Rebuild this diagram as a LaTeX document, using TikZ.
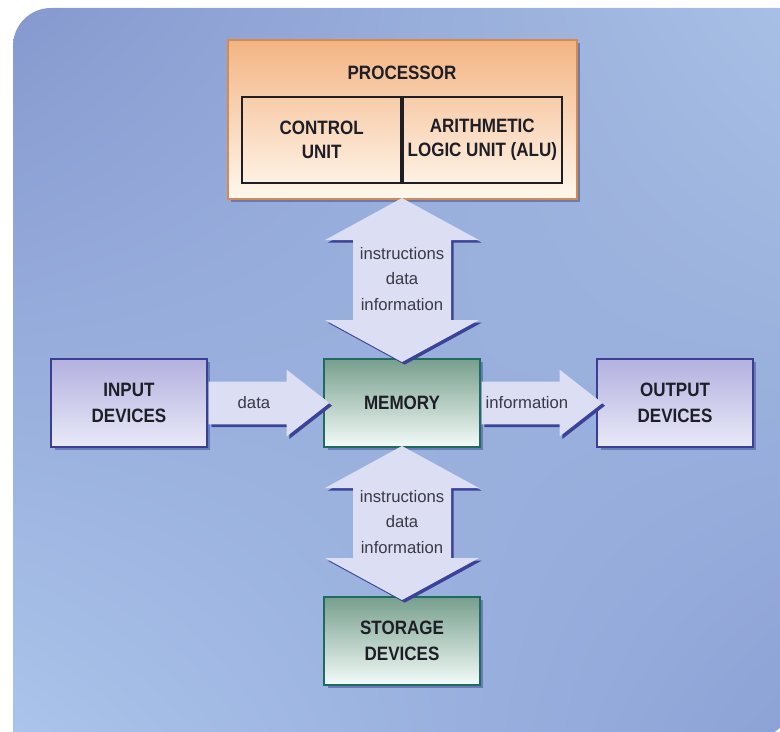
\documentclass[tikz,border=0pt]{standalone}
\usepackage{fontspec}
\setmainfont{Liberation Sans}
\newfontfamily\boxfont{Liberation Sans}[FakeStretch=0.88]
\usetikzlibrary{positioning,calc,shadows,shadings}

\definecolor{panelul}{HTML}{8699CF}
\definecolor{panelur}{HTML}{A8C0E5}
\definecolor{panelll}{HTML}{ABC5EB}
\definecolor{panellr}{HTML}{8CA1D5}
\definecolor{flowbody}{HTML}{DCDEF3}
\definecolor{flowshade}{HTML}{3A4397}
\definecolor{boxshade}{HTML}{5565A8}
\definecolor{devtop}{HTML}{B3B1DF}
\definecolor{devbot}{HTML}{E9E9F8}
\definecolor{devline}{HTML}{3B3F93}
\definecolor{memtop}{HTML}{779F8D}
\definecolor{membot}{HTML}{F3FBF8}
\definecolor{memline}{HTML}{1F6B5E}
\definecolor{proctop}{HTML}{F3B483}
\definecolor{procbot}{HTML}{FFF8EE}
\definecolor{procline}{HTML}{D58B4E}
\definecolor{ink}{HTML}{1E1E26}
\definecolor{flowink}{HTML}{3A3A44}

\newcommand{\flowright}[3]{%
  \fill[flow shadow] let \p1=($(#1.east)+(0.75pt,0)$), \p2=($(#2.west)+(4.5pt,0)$) in
    (\x1,\y1+16pt) -- (\x2-32pt,\y1+16pt) -- (\x2-32pt,\y1+25pt) -- (\x2,\y1)
    -- (\x2-32pt,\y1-25pt) -- (\x2-32pt,\y1-16pt) -- (\x1,\y1-16pt) -- cycle;
  \fill[flow body] let \p1=($(#1.east)+(0.75pt,0)$), \p2=($(#2.west)+(4.5pt,0)$) in
    (\x1,\y1+16pt) -- (\x2-32pt,\y1+16pt) -- (\x2-32pt,\y1+25pt) -- (\x2,\y1)
    -- (\x2-32pt,\y1-25pt) -- (\x2-32pt,\y1-16pt) -- (\x1,\y1-16pt) -- cycle;
  \node[flow text] at ($(#1.east)!.4!(#2.west)$) {#3};
}

\newcommand{\flowboth}[3]{%
  \fill[flow shadow] let \p1=($(#1.south)+(0,1.5pt)$), \p2=($(#2.north)+(0,-3pt)$) in
    (\x1,\y1) -- (\x1+57.75pt,\y1-31.5pt) -- (\x1+36.75pt,\y1-31.5pt)
    -- (\x1+36.75pt,\y2+31.5pt) -- (\x1+57.75pt,\y2+31.5pt) -- (\x1,\y2)
    -- (\x1-57.75pt,\y2+31.5pt) -- (\x1-36.75pt,\y2+31.5pt)
    -- (\x1-36.75pt,\y1-31.5pt) -- (\x1-57.75pt,\y1-31.5pt) -- cycle;
  \fill[flow body] let \p1=($(#1.south)+(0,1.5pt)$), \p2=($(#2.north)+(0,-3pt)$) in
    (\x1,\y1) -- (\x1+57.75pt,\y1-31.5pt) -- (\x1+36.75pt,\y1-31.5pt)
    -- (\x1+36.75pt,\y2+31.5pt) -- (\x1+57.75pt,\y2+31.5pt) -- (\x1,\y2)
    -- (\x1-57.75pt,\y2+31.5pt) -- (\x1-36.75pt,\y2+31.5pt)
    -- (\x1-36.75pt,\y1-31.5pt) -- (\x1-57.75pt,\y1-31.5pt) -- cycle;
  \node[flow text] at ($(#1.south)!.5!(#2.north)$) {#3};
}

\begin{document}
\begin{tikzpicture}[x=0.75pt, y=-0.75pt, node distance=204.75pt,
  box node/.style={draw, line width=1.5pt, minimum width=116.5pt, minimum height=66pt,
    align=center, text=ink, font=\boxfont\fontsize{14.5}{19.5}\selectfont\bfseries,
    drop shadow={shadow xshift=2.5pt, shadow yshift=-2.5pt, fill=boxshade, opacity=.7}},
  device node/.style={box node, draw=devline, top color=devtop, bottom color=devbot},
  memory node/.style={box node, draw=memline, top color=memtop, bottom color=membot},
  unit node/.style={draw=ink, line width=1.2pt, minimum width=119.25pt, minimum height=64.5pt,
    inner sep=1pt, align=center, text=ink, font=\boxfont\fontsize{14.5}{18}\selectfont\bfseries},
  flow shadow/.style={fill=flowshade, transform canvas={xshift=2pt, yshift=-2pt}},
  flow body/.style={fill=flowbody},
  flow text/.style={align=center, text=flowink, font=\fontsize{12.5}{19}\selectfont}]
\useasboundingbox (0,0) rectangle (780,731);
\fill[white] (0,0) rectangle (780,731);
\shade[upper left=panelul, upper right=panelur, lower left=panelll, lower right=panellr]
  (13,745) -- (13,46) arc[start angle=180, end angle=90, radius=28.5pt] -- (792,8)
  -- (792,700) arc[start angle=0, end angle=-90, radius=28.5pt] -- cycle;

\node[memory node]                         (memory)  at (402,403) {MEMORY};
\node[device node, left of=memory]         (input)   {INPUT\\DEVICES};
\node[device node, right of=memory]        (output)  {OUTPUT\\DEVICES};
\node[memory node, below of=memory, node distance=178.5pt] (storage) {STORAGE\\DEVICES};
\node[box node, draw=procline, top color=proctop, bottom color=procbot,
  minimum width=261.75pt, minimum height=119.25pt,
  above of=memory, node distance=212.6pt]  (processor) {};
\node[text=ink, font=\boxfont\fontsize{14.5}{19.5}\selectfont\bfseries] (proctitle)
  at ([yshift=-25pt]processor.north) {PROCESSOR};
\node[unit node, anchor=north east] (control) at ([yshift=-42.75pt]processor.north) {CONTROL\\UNIT};
\node[unit node, anchor=north west] (alu)     at ([yshift=-42.75pt]processor.north) {ARITHMETIC\\LOGIC UNIT (ALU)};

\flowright{input}{memory}{data}
\flowright{memory}{output}{information}
\flowboth{processor}{memory}{instructions\\data\\information}
\flowboth{memory}{storage}{instructions\\data\\information}
\end{tikzpicture}
\end{document}
